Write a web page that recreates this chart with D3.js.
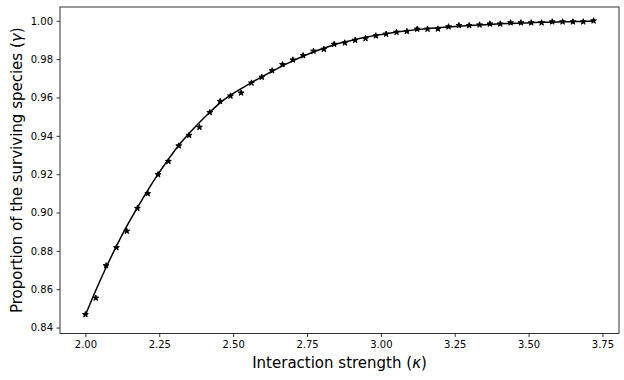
<!DOCTYPE html>
<html>
<head>
<meta charset="utf-8">
<script src="https://cdn.jsdelivr.net/npm/d3@7"></script>
<style>
  body { margin: 0; background: #fff; }
  svg { display: block; font-family: "DejaVu Sans", sans-serif; }
</style>
</head>
<body>
<svg id="chart" width="624" height="380"></svg>
<script>
// interaction strength (kappa) grid
var kappa = [
  2.000, 2.035, 2.070, 2.105, 2.140, 2.176, 2.211, 2.246, 2.281, 2.316,
  2.351, 2.386, 2.421, 2.456, 2.491, 2.527, 2.562, 2.597, 2.632, 2.667,
  2.702, 2.737, 2.772, 2.807, 2.842, 2.878, 2.913, 2.948, 2.983, 3.018,
  3.053, 3.088, 3.123, 3.158, 3.193, 3.229, 3.264, 3.299, 3.334, 3.369,
  3.404, 3.439, 3.474, 3.509, 3.544, 3.580, 3.615, 3.650, 3.685, 3.720
];
// simulated proportion of surviving species (stars)
var surviving = [
  0.8468, 0.8554, 0.8723, 0.8817, 0.8903, 0.9022, 0.9099, 0.9198, 0.9267, 0.9348,
  0.9403, 0.9445, 0.9522, 0.9580, 0.9608, 0.9624, 0.9676, 0.9706, 0.9740, 0.9772,
  0.9796, 0.9819, 0.9842, 0.9852, 0.9878, 0.9885, 0.9899, 0.9908, 0.9922, 0.9931,
  0.9941, 0.9945, 0.9957, 0.9957, 0.9958, 0.9969, 0.9976, 0.9976, 0.9979, 0.9984,
  0.9984, 0.9990, 0.9990, 0.9990, 0.9990, 0.9995, 0.9995, 0.9995, 0.9995, 1.0000
];
// theory curve (solid line)
var theory = [
  0.8465, 0.8593, 0.8713, 0.8825, 0.8929, 0.9026, 0.9116, 0.9200, 0.9278, 0.9351,
  0.9413, 0.9470, 0.9523, 0.9572, 0.9612, 0.9646, 0.9678, 0.9708, 0.9737, 0.9765,
  0.9791, 0.9815, 0.9837, 0.9857, 0.9875, 0.9890, 0.9903, 0.9914, 0.9924, 0.9933,
  0.9941, 0.9948, 0.9954, 0.9959, 0.9964, 0.9968, 0.9972, 0.9975, 0.9978, 0.9981,
  0.9984, 0.9986, 0.9988, 0.9990, 0.9992, 0.9993, 0.9995, 0.9996, 0.9997, 0.9998
];
var xTicks = [2.00, 2.25, 2.50, 2.75, 3.00, 3.25, 3.50, 3.75];
var yTicks = [0.84, 0.86, 0.88, 0.90, 0.92, 0.94, 0.96, 0.98, 1.00];

(function () {
  var svg = d3.select('#chart');
  var left = 60, right = 619, top = 7, bottom = 333.5;

  var x = d3.scaleLinear().domain([1.914, 3.806]).range([left, right]);
  var y = d3.scaleLinear().domain([0.8369, 1.0072]).range([bottom, top]);

  var pts = kappa.map(function(k, i) {
    return {k: k, s: surviving[i], t: theory[i]};
  });

  // axes
  var xAxis = svg.append('g')
    .attr('transform', 'translate(0,' + bottom + ')')
    .call(d3.axisBottom(x).tickValues(xTicks).tickFormat(d3.format('.2f'))
      .tickSize(3.5).tickPadding(3.5).tickSizeOuter(0));
  var yAxis = svg.append('g')
    .attr('transform', 'translate(' + left + ',0)')
    .call(d3.axisLeft(y).tickValues(yTicks).tickFormat(d3.format('.2f'))
      .tickSize(3.5).tickPadding(3.5).tickSizeOuter(0));
  [xAxis, yAxis].forEach(function(g) {
    g.select('.domain').remove();
    g.selectAll('line').attr('stroke', '#000').attr('stroke-width', 0.8);
    g.selectAll('text')
      .attr('fill', '#000')
      .style('font-family', '"DejaVu Sans", sans-serif')
      .style('font-size', '10px');
  });

  // frame
  svg.append('rect')
    .attr('x', left)
    .attr('y', top)
    .attr('width', right - left)
    .attr('height', bottom - top)
    .attr('fill', 'none')
    .attr('stroke', '#000')
    .attr('stroke-width', 0.8);

  // theory line
  var line = d3.line()
    .x(function(d) {return x(d.k);})
    .y(function(d) {return y(d.t);})
    .curve(d3.curveMonotoneX);
  svg.append('path')
    .datum(pts)
    .attr('d', line)
    .attr('fill', 'none')
    .attr('stroke', '#000')
    .attr('stroke-width', 1.5);

  // stars
  var star = d3.symbol().type(d3.symbolStar).size(10.5);
  svg.selectAll('.star')
    .data(pts)
    .enter()
    .append('path')
    .attr('class', 'star')
    .attr('d', star)
    .attr('transform', function(d) {return 'translate(' + x(d.k) + ',' + y(d.s) + ')';})
    .attr('fill', '#000')
    .attr('stroke', '#000')
    .attr('stroke-width', 1);

  // axis labels
  var xl = svg.append('text')
    .attr('x', (left + right) / 2)
    .attr('y', 368)
    .attr('text-anchor', 'middle')
    .style('font-size', '15px')
    .attr('fill', '#000');
  xl.append('tspan').text('Interaction strength (');
  xl.append('tspan').style('font-style', 'italic').text('\u03BA');
  xl.append('tspan').text(')');

  var yl = svg.append('text')
    .attr('transform', 'translate(21.5,' + (top + bottom) / 2 + ') rotate(-90)')
    .attr('text-anchor', 'middle')
    .style('font-size', '15px')
    .attr('fill', '#000');
  yl.append('tspan').text('Proportion of the surviving species (');
  yl.append('tspan').style('font-style', 'italic').text('\u03B3');
  yl.append('tspan').text(')');
})();
</script>
</body>
</html>
